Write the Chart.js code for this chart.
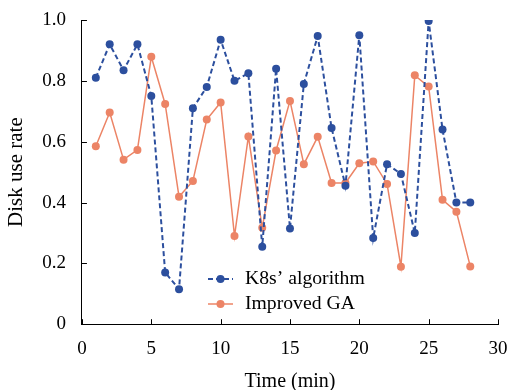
<!DOCTYPE html>
<html>
<head>
<meta charset="utf-8">
<script src="https://cdn.jsdelivr.net/npm/chart.js@4"></script>
<style>
  html, body { margin: 0; padding: 0; background: #fff; }
  #wrap { width: 511px; height: 390px; }
</style>
</head>
<body>
<div id="wrap"><canvas id="diskChart" width="511" height="390"></canvas></div>
<script>
const times = [1, 2, 3, 4, 5, 6, 7, 8, 9, 10, 11, 12, 13, 14, 15, 16, 17, 18, 19, 20, 21, 22, 23, 24, 25, 26, 27, 28]
const k8sRate = [0.81, 0.92, 0.835, 0.92, 0.75, 0.17, 0.115, 0.71, 0.78, 0.935, 0.80, 0.825, 0.255, 0.84,
    0.315, 0.79, 0.947, 0.645, 0.455, 0.95, 0.283, 0.526, 0.494, 0.30, 0.997, 0.64, 0.40, 0.40]
const gaRate = [0.585, 0.696, 0.541, 0.573, 0.879, 0.724, 0.419, 0.471, 0.673, 0.729, 0.29, 0.617, 0.317, 0.571,
    0.734, 0.526, 0.616, 0.464, 0.464, 0.529, 0.535, 0.461, 0.189, 0.818, 0.781, 0.409, 0.370, 0.190]
const xTicks = [0, 5, 10, 15, 20, 25, 30]
const yTicks = [0, 0.2, 0.4, 0.6, 0.8, 1.0]

const blue = '#2c4f9e'
const orange = '#ec8466'
const serif = "'Liberation Serif', 'DejaVu Serif', serif"

// inward tick marks + legend inside the plot
const extras = {
    id: 'extras',
    afterDraw(chart) {
        const ctx = chart.ctx
        const x = chart.scales.x, y = chart.scales.y
        ctx.save()
        ctx.strokeStyle = '#000'
        ctx.lineWidth = 1
        ctx.beginPath()
        xTicks.forEach(v => {
            const px = Math.round(x.getPixelForValue(v)) + 0.5
            ctx.moveTo(px, y.bottom)
            ctx.lineTo(px, y.bottom - 5)
        })
        yTicks.forEach(v => {
            const py = Math.round(y.getPixelForValue(v)) + 0.5
            ctx.moveTo(x.left, py)
            ctx.lineTo(x.left + 5, py)
        })
        ctx.stroke()

        // legend
        const lx = 208, ly = [279, 304]
        chart.data.datasets.forEach((ds, i) => {
            ctx.strokeStyle = ds.borderColor
            ctx.lineWidth = ds.borderWidth
            ctx.setLineDash(ds.borderDash || [])
            ctx.beginPath()
            ctx.moveTo(lx, ly[i])
            ctx.lineTo(lx + 25, ly[i])
            ctx.stroke()
            ctx.setLineDash([])
            ctx.fillStyle = ds.pointBackgroundColor
            ctx.beginPath()
            ctx.arc(lx + 12.5, ly[i], 4, 0, Math.PI * 2)
            ctx.fill()
            ctx.fillStyle = '#000'
            ctx.font = '19.7px ' + serif
            ctx.textBaseline = 'middle'
            ctx.fillText(ds.label, lx + 37, ly[i])
        })
        ctx.restore()
    }
}

new Chart(document.getElementById('diskChart'), {
    type: 'line',
    data: {
        labels: times,
        datasets: [{
            label: 'K8s\u2019 algorithm',
            data: times.map((t, i) => ({x: t, y: k8sRate[i]})),
            borderColor: blue,
            backgroundColor: blue,
            pointBackgroundColor: blue,
            pointBorderWidth: 0,
            pointRadius: 4,
            borderWidth: 2,
            borderDash: [5, 3],
            tension: 0
        }, {
            label: 'Improved GA',
            data: times.map((t, i) => ({x: t, y: gaRate[i]})),
            borderColor: orange,
            backgroundColor: orange,
            pointBackgroundColor: orange,
            pointBorderWidth: 0,
            pointRadius: 4,
            borderWidth: 1.5,
            tension: 0
        }]
    },
    options: {
        responsive: false,
        animation: false,
        layout: {padding: {left: 0, right: 13, top: 20, bottom: -2}},
        plugins: {legend: {display: false}, tooltip: {enabled: false}},
        scales: {
            x: {
                type: 'linear',
                min: 0,
                max: 30,
                afterBuildTicks: s => { s.ticks = xTicks.map(v => ({value: v})) },
                grid: {display: true, drawOnChartArea: false, drawTicks: true, tickLength: 13, color: 'rgba(0,0,0,0)', tickColor: 'rgba(0,0,0,0)'},
                border: {display: true, color: '#000', width: 1},
                ticks: {color: '#000', font: {family: serif, size: 19}, padding: 0, maxRotation: 0},
                title: {display: true, text: 'Time (min)', color: '#000',
                    font: {family: serif, size: 20, lineHeight: 1}, padding: {top: 12, bottom: 0}}
            },
            y: {
                min: 0,
                max: 1,
                afterBuildTicks: s => { s.ticks = yTicks.map(v => ({value: v})) },
                grid: {display: false},
                border: {display: true, color: '#000', width: 1},
                ticks: {
                    color: '#000', font: {family: serif, size: 19}, padding: 8,
                    callback: v => v === 0 ? '0' : v.toFixed(1)
                },
                title: {display: true, text: 'Disk use rate', color: '#000', font: {family: serif, size: 21}, padding: {bottom: 5}}
            }
        }
    },
    plugins: [extras]
})
</script>
</body>
</html>
